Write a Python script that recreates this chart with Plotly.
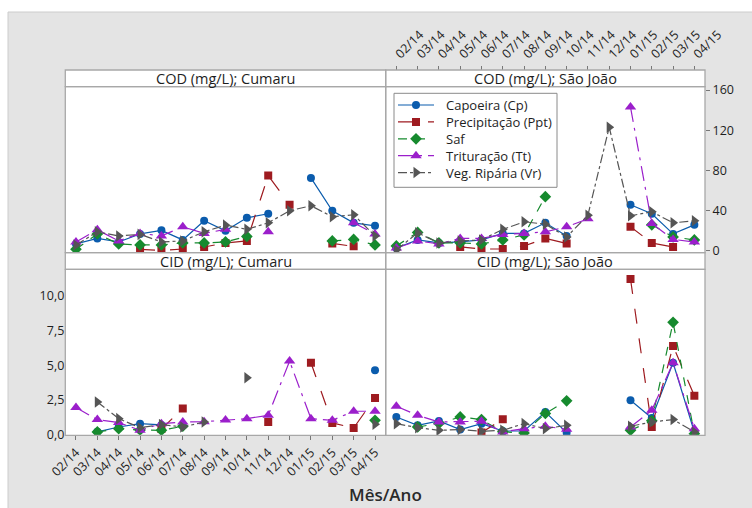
import plotly.graph_objects as go

W, H = 752, 508

# Months on the x axis
months = ["02/14", "03/14", "04/14", "05/14", "06/14", "07/14", "08/14", "09/14",
          "10/14", "11/14", "12/14", "01/15", "02/15", "03/15", "04/15"]

# COD (mg/L) - Cumaru
cod_cumaru_cp = [7, 12.5, 9, 17, 20.5, 11, 30, 20, 33, 37, None, 72.6, 40, 28, 25]
cod_cumaru_ppt = [None, None, None, 1.7, 0.5, 2, 4, 8, 10, 75, 46, None, 7.5, 4.6, None]
cod_cumaru_saf = [1.7, 17, 7, 6, 6, 8, 8, 9, 14.5, None, None, None, 10, 11.5, 6]
cod_cumaru_tt = [9, 21, 10, 17.5, 15, 24, 17.5, 21.5, None, 19, None, None, None, 28, 17]
cod_cumaru_vr = [6, 19, 15, 16.5, 9, 10, 19, 25.7, 21.5, 28, 40, 45, 34, 36, 15]

# COD (mg/L) - São João
cod_sj_cp = [3, 11, 8, 9, 11, 17.5, 17.5, 28, 15, None, None, 46, 37, 17, 26]
cod_sj_ppt = [None, None, None, 4, 2, 2, 5, 12.5, 7.5, None, None, 24, 8, 4, None]
cod_sj_saf = [5, 18.5, 8, 8, 7, 11, 16, 54, None, None, None, None, 26, 14, 11]
cod_sj_tt = [3, 10, 7, 12.5, 12.5, 16.5, 17.5, 19, 24, 32, None, 143, 27.4, 11.5, 9]
cod_sj_vr = [1, 18, 8, 10, 11, 21.5, 29, 26.7, 14, 35.6, 123, 35, 39, 28, 30]

# CID (mg/L) - Cumaru
cid_cumaru_cp = [None, 0.2, 0.55, 0.79, 0.7, None, None, None, None, None, None, None, None, None, 4.64]
cid_cumaru_ppt = [None, None, None, None, 0.4, 1.88, None, None, None, 0.9, None, 5.17, 0.84, 0.48, 2.64]
cid_cumaru_saf = [None, 0.19, 0.43, 0.33, 0.31, 0.6, None, None, None, None, None, None, None, None, 1.03]
cid_cumaru_tt = [1.95, 1.08, 0.87, 0.31, 0.79, 0.91, 0.93, 1.05, 1.15, 1.39, 5.29, 1.15, 1.03, 1.68, 1.68]
cid_cumaru_vr = [None, 2.35, 1.15, 0.5, 0.72, 0.55, 0.91, None, 4.1, None, None, None, None, None, 0.74]

# CID (mg/L) - São João
cid_sj_cp = [1.27, 0.67, 0.98, 0.36, 0.79, 0.26, 0.26, 1.63, 0.14, None, None, 2.47, 1.2, 5.17, 0.19]
cid_sj_ppt = [None, None, None, None, 0.15, 1.1, None, None, None, None, None, 11.2, 0.55, 6.38, 2.79]
cid_sj_saf = [None, 0.55, 0.8, 1.27, 1.08, 0.2, 0.12, 1.52, 2.43, None, None, 0.31, 1.0, 8.08, 0.07]
cid_sj_tt = [2.04, 1.39, 0.91, 0.91, 0.96, 0.19, 0.43, 0.6, 0.38, None, None, 0.55, 1.75, 5.17, 0.43]
cid_sj_vr = [0.79, 0.5, 0.31, 0.36, 0.24, 0.31, 0.79, 0.43, 0.67, None, None, 0.6, 0.91, 1.08, 0.19]

series_names = ["Capoeira (Cp)", "Precipitação (Ppt)", "Saf", "Trituração (Tt)", "Veg. Ripária (Vr)"]
colors = ["#0B5CAD", "#9E1B20", "#168A2E", "#9B1FCB", "#555555"]
symbols = ["circle", "square", "diamond", "triangle-up", "triangle-right"]
dashes = ["solid", "longdash", "dash", "longdashdot", "dashdot"]
marker_sizes = [8, 8, 9, 10, 10]

panels = [
    ("x", "y", [cod_cumaru_cp, cod_cumaru_ppt, cod_cumaru_saf, cod_cumaru_tt, cod_cumaru_vr]),
    ("x2", "y2", [cod_sj_cp, cod_sj_ppt, cod_sj_saf, cod_sj_tt, cod_sj_vr]),
    ("x3", "y3", [cid_cumaru_cp, cid_cumaru_ppt, cid_cumaru_saf, cid_cumaru_tt, cid_cumaru_vr]),
    ("x4", "y4", [cid_sj_cp, cid_sj_ppt, cid_sj_saf, cid_sj_tt, cid_sj_vr]),
]

fig = go.Figure()
for pi, (xa, ya, data) in enumerate(panels):
    for si, vals in enumerate(data):
        fig.add_trace(go.Scatter(
            x=months, y=vals, xaxis=xa, yaxis=ya,
            mode="lines+markers", name=series_names[si],
            showlegend=False, connectgaps=False,
            line=dict(color=colors[si], width=1.2, dash=dashes[si]),
            marker=dict(color=colors[si], symbol=symbols[si], size=marker_sizes[si]),
        ))


def px_x(px):
    return px / W


def px_y(py):
    return 1 - py / H


# panel geometry in pixels
LX0, LX1, RX1 = 65.3, 385.7, 705.0
TS0, TS1, TP1 = 70.0, 86.7, 252.7
BS1, BP1 = 269.3, 435.3

# compact key box, in pixels
LG_X0, LG_X1, LG_Y0, LG_Y1 = 394.0, 557.0, 93.3, 187.3
LG_FONT = 13
LG_ROW_STEP = 1.3 * LG_FONT
LG_ROW0 = 11.7
LG_LINE = (4, 40)
LG_TEXT_X = 50

font_family = "Open Sans, Noto Sans, sans-serif"
txt = "#1e1e1e"

cat_range = [-0.5, 14.5]
cod_range = [-1.7, 163.3]
cid_range = [-0.05, 11.9]

common_x = dict(type="category", range=cat_range, showgrid=False, zeroline=False, automargin=False,
                tickfont=dict(size=12.5, color=txt, family=font_family))
common_y = dict(showgrid=False, zeroline=False, automargin=False,
                tickfont=dict(size=12.5, color=txt, family=font_family))

# key rows: a line sample with its marker in the middle
for si, name in enumerate(series_names):
    row = LG_ROW0 + LG_ROW_STEP * si
    mid = (LG_LINE[0] + LG_LINE[1]) / 2
    fig.add_trace(go.Scatter(
        x=list(LG_LINE), y=[row, row], xaxis="x5", yaxis="y5",
        mode="lines", showlegend=False, hoverinfo="skip",
        line=dict(color=colors[si], width=1.2, dash=dashes[si]),
    ))
    fig.add_trace(go.Scatter(
        x=[mid], y=[row], xaxis="x5", yaxis="y5",
        mode="markers", showlegend=False, hoverinfo="skip",
        marker=dict(color=colors[si], symbol=symbols[si], size=marker_sizes[si]),
    ))

fig.update_layout(
    width=W, height=H,
    margin=dict(l=0, r=0, t=0, b=0, pad=0, autoexpand=False),
    paper_bgcolor="white", plot_bgcolor="white",
    font=dict(family=font_family, color=txt),
    showlegend=False,
    xaxis=dict(domain=[px_x(LX0), px_x(LX1)], anchor="y", showticklabels=False, ticks="", **common_x),
    yaxis=dict(domain=[px_y(TP1), px_y(TS1)], anchor="x", range=cod_range, showticklabels=False, ticks="", **common_y),
    xaxis2=dict(domain=[px_x(LX1), px_x(RX1)], anchor="free", position=px_y(TS0), side="top",
                ticks="outside", ticklen=4, tickcolor="#777", tickangle=-45, **common_x),
    yaxis2=dict(domain=[px_y(TP1), px_y(TS1)], anchor="x2", side="right", range=cod_range,
                tickvals=[0, 40, 80, 120, 160], ticks="outside", ticklen=4, tickcolor="#777", **common_y),
    xaxis3=dict(domain=[px_x(LX0), px_x(LX1)], anchor="y3", side="bottom",
                ticks="outside", ticklen=4, tickcolor="#777", tickangle=-45, **common_x),
    yaxis3=dict(domain=[px_y(BP1), px_y(BS1)], anchor="x3", side="left", range=cid_range,
                tickvals=[0, 2.5, 5, 7.5, 10], ticktext=["0,0", "2,5", "5,0", "7,5", "10,0"],
                ticks="", **common_y),
    xaxis4=dict(domain=[px_x(LX1), px_x(RX1)], anchor="y4", showticklabels=False, ticks="", **common_x),
    yaxis4=dict(domain=[px_y(BP1), px_y(BS1)], anchor="x4", range=cid_range, showticklabels=False, ticks="", **common_y),
    xaxis5=dict(domain=[px_x(LG_X0), px_x(LG_X1)], anchor="y5", range=[0, LG_X1 - LG_X0],
                visible=False, fixedrange=True),
    yaxis5=dict(domain=[px_y(LG_Y1), px_y(LG_Y0)], anchor="x5", range=[LG_Y1 - LG_Y0, 0],
                visible=False, fixedrange=True),
)

shapes = []
# gray graph region
shapes.append(dict(type="rect", xref="paper", yref="paper", layer="below",
                   x0=px_x(8), x1=1.02, y0=-0.02, y1=px_y(12),
                   fillcolor="#E4E4E4", line=dict(color="#CCCCCC", width=1)))
# white panel backgrounds (strips + plot areas)
for (x0, x1) in [(LX0, LX1), (LX1, RX1)]:
    for (y0, y1) in [(TS0, TP1), (TP1, BP1)]:
        shapes.append(dict(type="rect", xref="paper", yref="paper", layer="below",
                           x0=px_x(x0), x1=px_x(x1), y0=px_y(y1), y1=px_y(y0),
                           fillcolor="white", line=dict(width=0)))
# strip and panel borders
for (x0, x1) in [(LX0, LX1), (LX1, RX1)]:
    for (s0, s1, p1) in [(TS0, TS1, TP1), (TP1, BS1, BP1)]:
        shapes.append(dict(type="rect", xref="paper", yref="paper", layer="above",
                           x0=px_x(x0), x1=px_x(x1), y0=px_y(s1), y1=px_y(s0),
                           fillcolor="rgba(0,0,0,0)", line=dict(color="#A8A8A8", width=1.3)))
        shapes.append(dict(type="rect", xref="paper", yref="paper", layer="above",
                           x0=px_x(x0), x1=px_x(x1), y0=px_y(p1), y1=px_y(s1),
                           fillcolor="rgba(0,0,0,0)", line=dict(color="#A8A8A8", width=1.3)))
# key frame
shapes.append(dict(type="rect", xref="paper", yref="paper", layer="above",
                   x0=px_x(LG_X0), x1=px_x(LG_X1), y0=px_y(LG_Y1), y1=px_y(LG_Y0),
                   fillcolor="rgba(0,0,0,0)", line=dict(color="#8a8a8a", width=1)))
fig.update_layout(shapes=shapes)

strip_titles = [
    ("COD (mg/L); Cumaru", LX0, LX1, TS0, TS1),
    ("COD (mg/L); São João", LX1, RX1, TS0, TS1),
    ("CID (mg/L); Cumaru", LX0, LX1, TP1, BS1),
    ("CID (mg/L); São João", LX1, RX1, TP1, BS1),
]
annotations = []
for text, x0, x1, y0, y1 in strip_titles:
    annotations.append(dict(text=text, xref="paper", yref="paper",
                            x=px_x((x0 + x1) / 2), y=px_y((y0 + y1) / 2),
                            xanchor="center", yanchor="middle", showarrow=False,
                            font=dict(size=14.5, color=txt, family=font_family)))
# key labels as one multi-line block so the rows share the line spacing
annotations.append(dict(text="<br>".join(series_names), xref="x5", yref="y5",
                        x=LG_TEXT_X, y=LG_ROW0 + LG_ROW_STEP * (len(series_names) - 1) / 2,
                        xanchor="left", yanchor="middle", align="left", showarrow=False,
                        font=dict(size=LG_FONT, color=txt, family=font_family)))
annotations.append(dict(text="Mês/Ano", xref="paper", yref="paper",
                        x=px_x(LX1), y=px_y(494), xanchor="center", yanchor="middle",
                        showarrow=False,
                        font=dict(size=17, color="#2a2a2a", family=font_family, weight=600)))
fig.update_layout(annotations=annotations)

fig.write_html("out.html")
